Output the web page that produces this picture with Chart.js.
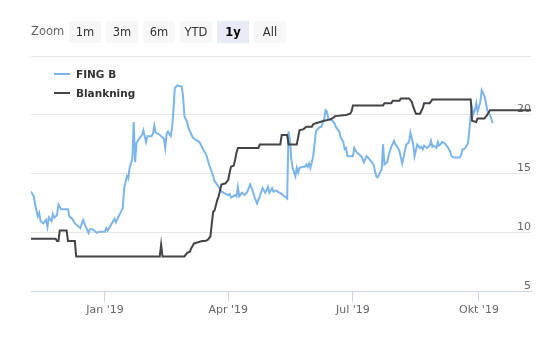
<!DOCTYPE html>
<html>
<head>
<meta charset="utf-8">
<script src="https://cdn.jsdelivr.net/npm/chart.js@4.4.1/dist/chart.umd.min.js"></script>
<style>
    body { margin: 0; background: #fff; }
    #wrap { position: relative; width: 559px; height: 341px; font-family: "DejaVu Sans", sans-serif; }
    #chart { position: absolute; left: 0; top: 0; }
    .zoom-label { position: absolute; left: 31px; top: 24px; font-size: 11.5px; color: #666; }
    .range-btn { position: absolute; top: 21px; width: 32px; height: 22px; line-height: 22px; text-align: center;
                 background: #f7f7f7; color: #333; font-size: 11.5px; }
    .range-btn.active { background: #e6ebf5; color: #000; font-weight: bold; }
    .legend { position: absolute; left: 54px; top: 66px; font-size: 10.5px; font-weight: bold; color: #333; }
    .legend div { height: 19px; line-height: 16px; position: relative; padding-left: 22px; }
    .legend span { position: absolute; left: 0; top: 7px; width: 16px; height: 2px; }
</style>
</head>
<body>
<div id="wrap">
    <canvas id="chart" width="559" height="341"></canvas>
    <div class="zoom-label">Zoom</div>
    <div id="buttons"></div>
    <div class="legend" id="legend"></div>
</div>
<script>
// Data
const fingDates = [
    '2018-11-08', '2018-11-10', '2018-11-11', '2018-11-13', '2018-11-14', '2018-11-15', '2018-11-17',
    '2018-11-19', '2018-11-20', '2018-11-21', '2018-11-23', '2018-11-24', '2018-11-25', '2018-11-27',
    '2018-11-28', '2018-11-30', '2018-12-02', '2018-12-05', '2018-12-06', '2018-12-08', '2018-12-10',
    '2018-12-12', '2018-12-14', '2018-12-16', '2018-12-18', '2018-12-20', '2018-12-21', '2018-12-23',
    '2018-12-26', '2018-12-28', '2019-01-01', '2019-01-02', '2019-01-03', '2019-01-06', '2019-01-08',
    '2019-01-09', '2019-01-11', '2019-01-14', '2019-01-15', '2019-01-17', '2019-01-18', '2019-01-19',
    '2019-01-21', '2019-01-22', '2019-01-23', '2019-01-24', '2019-01-26', '2019-01-28', '2019-01-29',
    '2019-01-31', '2019-02-01', '2019-02-04', '2019-02-05', '2019-02-06', '2019-02-07', '2019-02-09',
    '2019-02-11', '2019-02-13', '2019-02-14', '2019-02-15', '2019-02-16', '2019-02-18', '2019-02-19',
    '2019-02-20', '2019-02-21', '2019-02-23', '2019-02-26', '2019-02-27', '2019-02-28', '2019-03-02',
    '2019-03-03', '2019-03-06', '2019-03-08', '2019-03-11', '2019-03-14', '2019-03-16', '2019-03-18',
    '2019-03-21', '2019-03-22', '2019-03-25', '2019-03-27', '2019-03-30', '2019-04-01', '2019-04-02',
    '2019-04-03', '2019-04-06', '2019-04-07', '2019-04-08', '2019-04-09', '2019-04-11', '2019-04-13',
    '2019-04-15', '2019-04-17', '2019-04-19', '2019-04-20', '2019-04-22', '2019-04-24', '2019-04-26',
    '2019-04-28', '2019-04-29', '2019-04-30', '2019-05-01', '2019-05-03', '2019-05-04', '2019-05-06',
    '2019-05-07', '2019-05-10', '2019-05-12', '2019-05-14', '2019-05-15', '2019-05-16', '2019-05-17',
    '2019-05-18', '2019-05-20', '2019-05-21', '2019-05-22', '2019-05-23', '2019-05-25', '2019-05-27',
    '2019-05-28', '2019-05-29', '2019-05-30', '2019-05-31', '2019-06-02', '2019-06-03', '2019-06-04',
    '2019-06-06', '2019-06-08', '2019-06-09', '2019-06-10', '2019-06-11', '2019-06-12', '2019-06-13',
    '2019-06-15', '2019-06-17', '2019-06-19', '2019-06-21', '2019-06-22', '2019-06-24', '2019-06-25',
    '2019-06-26', '2019-06-27', '2019-06-29', '2019-07-01', '2019-07-02', '2019-07-04', '2019-07-05',
    '2019-07-07', '2019-07-08', '2019-07-09', '2019-07-11', '2019-07-12', '2019-07-14', '2019-07-16',
    '2019-07-17', '2019-07-18', '2019-07-19', '2019-07-20', '2019-07-22', '2019-07-23', '2019-07-24',
    '2019-07-26', '2019-07-27', '2019-07-29', '2019-07-31', '2019-08-01', '2019-08-03', '2019-08-04',
    '2019-08-06', '2019-08-08', '2019-08-09', '2019-08-11', '2019-08-12', '2019-08-14', '2019-08-15',
    '2019-08-16', '2019-08-17', '2019-08-19', '2019-08-20', '2019-08-21', '2019-08-22', '2019-08-24',
    '2019-08-26', '2019-08-27', '2019-08-28', '2019-08-29', '2019-08-31', '2019-09-01', '2019-09-02',
    '2019-09-03', '2019-09-04', '2019-09-06', '2019-09-08', '2019-09-10', '2019-09-11', '2019-09-13',
    '2019-09-17', '2019-09-18', '2019-09-19', '2019-09-20', '2019-09-21', '2019-09-23', '2019-09-24',
    '2019-09-25', '2019-09-26', '2019-09-27', '2019-09-28', '2019-09-29', '2019-09-30', '2019-10-02',
    '2019-10-03', '2019-10-05', '2019-10-06', '2019-10-07', '2019-10-09', '2019-10-10', '2019-10-11'
];
const fingValues = [
    13.5, 13.1, 12.4, 11.4, 11.7, 11.0, 10.8,
    11.1, 10.5, 11.3, 11.0, 11.6, 11.3, 11.5,
    12.4, 12.0, 12.0, 12.0, 11.4, 11.2, 10.8,
    10.6, 10.4, 11.1, 10.5, 10.0, 10.3, 10.3,
    10.0, 10.1, 10.1, 10.4, 10.2, 10.8, 11.2,
    10.9, 11.4, 12.1, 13.8, 14.8, 14.6, 15.5,
    16.3, 19.4, 16.0, 17.6, 18.0, 18.3, 18.7,
    17.7, 18.2, 18.2, 18.4, 19.1, 18.5, 18.4,
    18.2, 18.0, 17.2, 18.4, 18.6, 18.2, 18.9,
    20.4, 22.3, 22.5, 22.4, 21.6, 19.9, 19.4,
    18.9, 18.1, 17.9, 17.7, 17.0, 16.6, 15.8,
    14.8, 14.4, 13.9, 13.5, 13.3, 13.2, 13.3,
    13.0, 13.2, 13.1, 13.9, 13.1, 13.4, 13.2,
    13.5, 14.1, 13.5, 13.1, 12.5, 13.1, 13.8,
    13.4, 13.6, 13.9, 13.4, 13.8, 13.5, 13.6,
    13.5, 13.3, 13.1, 12.9, 18.6, 17.9, 16.3,
    15.5, 14.8, 15.5, 15.1, 15.5, 15.6, 15.6,
    15.8, 15.6, 15.9, 15.5, 16.5, 17.5, 18.6,
    18.9, 19.0, 19.4, 19.6, 20.4, 20.3, 19.7,
    19.6, 19.4, 18.9, 18.6, 18.1, 17.7, 17.1,
    17.2, 16.5, 16.5, 16.5, 17.2, 16.8, 16.7,
    16.5, 16.3, 16.0, 16.5, 16.4, 16.1, 15.8,
    15.3, 14.8, 14.7, 14.9, 15.4, 17.5, 15.8,
    16.0, 16.5, 17.3, 17.8, 17.5, 17.2, 16.9,
    15.9, 17.0, 17.5, 17.7, 18.5, 17.5, 16.5,
    17.0, 17.5, 17.2, 17.3, 17.1, 17.4, 17.2,
    17.4, 17.8, 17.3, 17.4, 17.2, 17.7, 17.4,
    17.5, 17.7, 17.6, 17.3, 16.9, 16.5, 16.4,
    16.4, 16.6, 17.1, 17.1, 17.2, 17.6, 18.7,
    20.0, 20.6, 20.1, 20.4, 21.0, 20.3, 21.1,
    22.1, 21.6, 21.1, 20.4, 20.0, 19.7, 19.3
];

const blankDates = [
    '2018-11-08', '2018-11-26', '2018-11-27', '2018-11-28', '2018-11-29', '2018-12-04', '2018-12-05',
    '2018-12-10', '2018-12-11', '2019-02-10', '2019-02-11', '2019-02-12', '2019-02-28', '2019-03-02',
    '2019-03-04', '2019-03-05', '2019-03-07', '2019-03-10', '2019-03-13', '2019-03-15', '2019-03-17',
    '2019-03-19', '2019-03-20', '2019-03-21', '2019-03-22', '2019-03-24', '2019-03-25', '2019-03-26',
    '2019-03-27', '2019-03-30', '2019-04-01', '2019-04-02', '2019-04-03', '2019-04-05', '2019-04-06',
    '2019-04-07', '2019-04-08', '2019-04-23', '2019-04-24', '2019-05-09', '2019-05-10', '2019-05-14',
    '2019-05-15', '2019-05-21', '2019-05-23', '2019-05-26', '2019-05-28', '2019-06-01', '2019-06-02',
    '2019-06-04', '2019-06-07', '2019-06-10', '2019-06-14', '2019-06-16', '2019-06-18', '2019-06-26',
    '2019-06-29', '2019-06-30', '2019-07-01', '2019-07-23', '2019-07-24', '2019-07-29', '2019-07-30',
    '2019-08-04', '2019-08-05', '2019-08-11', '2019-08-13', '2019-08-14', '2019-08-16', '2019-08-19',
    '2019-08-21', '2019-08-22', '2019-08-26', '2019-08-28', '2019-09-25', '2019-09-26', '2019-09-29',
    '2019-09-30', '2019-10-05', '2019-10-07', '2019-10-09', '2019-11-08'
];
const blankValues = [
    9.5, 9.5, 9.3, 9.3, 10.2, 10.2, 9.3,
    9.3, 8.0, 8.0, 9.0, 8.0, 8.0, 8.3,
    8.4, 8.7, 9.1, 9.2, 9.3, 9.3, 9.4,
    9.7, 10.8, 11.8, 11.9, 12.8, 13.1, 13.6,
    14.1, 14.2, 14.5, 15.1, 15.6, 15.7, 16.2,
    16.8, 17.2, 17.2, 17.5, 17.5, 18.3, 18.3,
    17.5, 17.5, 18.7, 18.8, 19.0, 19.0, 19.2,
    19.3, 19.4, 19.5, 19.6, 19.7, 19.9, 20.0,
    20.1, 20.3, 20.8, 20.8, 21.0, 21.0, 21.2,
    21.2, 21.4, 21.4, 21.1, 20.7, 20.1, 20.1,
    20.6, 21.0, 21.0, 21.3, 21.3, 19.5, 19.4,
    19.7, 19.7, 20.0, 20.4, 20.4
];

const tickDates = ['2019-01-01', '2019-04-01', '2019-07-01', '2019-10-01'];
const tickLabels = ["Jan '19", "Apr '19", "Jul '19", "Okt '19"];
const rangeStart = '2018-11-08';
const rangeEnd = '2019-11-08';
const rangeButtons = ['1m', '3m', '6m', 'YTD', '1y', 'All'];
const activeRange = '1y';

const DAY = 86400000;
const toDay = d => Date.parse(d) / DAY;

// Range selector buttons
const btnBox = document.getElementById('buttons');
rangeButtons.forEach((label, i) => {
    const b = document.createElement('div');
    b.className = 'range-btn' + (label === activeRange ? ' active' : '');
    b.style.left = (69 + i * 37) + 'px';
    b.textContent = label;
    btnBox.appendChild(b);
});

// Series
const series = [
    { name: 'FING B', dates: fingDates, values: fingValues, color: '#7cb5ec', order: 1 },
    { name: 'Blankning', dates: blankDates, values: blankValues, color: '#434348', order: 0 }
];

// Legend
const legendBox = document.getElementById('legend');
series.forEach(s => {
    const row = document.createElement('div');
    row.innerHTML = `<span style="background:${s.color}"></span>${s.name}`;
    legendBox.appendChild(row);
});

const labelFont = { family: '"DejaVu Sans", sans-serif', size: 11 };

new Chart(document.getElementById('chart'), {
    type: 'line',
    data: {
        datasets: series.map(s => ({
            label: s.name,
            data: s.dates.map((d, i) => ({ x: toDay(d), y: s.values[i] })),
            borderColor: s.color,
            borderWidth: 2,
            pointRadius: 0,
            tension: 0,
            fill: false,
            order: s.order
        }))
    },
    options: {
        responsive: false,
        animation: false,
        devicePixelRatio: 1,
        layout: { padding: { left: 31, right: 28, top: 56, bottom: 22 } },
        plugins: {
            legend: { display: false },
            tooltip: { enabled: false }
        },
        scales: {
            x: {
                type: 'linear',
                min: toDay(rangeStart),
                max: toDay(rangeEnd),
                afterBuildTicks: axis => {
                    axis.ticks = tickDates.map(d => ({ value: toDay(d) }));
                },
                ticks: {
                    callback: (value, index) => tickLabels[index],
                    color: '#666',
                    font: labelFont,
                    padding: 2,
                    maxRotation: 0,
                    autoSkip: false
                },
                grid: {
                    drawOnChartArea: false,
                    tickLength: 10,
                    color: '#ccd6eb'
                },
                border: { color: '#ccd6eb', width: 1 }
            },
            y: {
                position: 'right',
                min: 5,
                max: 25,
                ticks: {
                    stepSize: 5,
                    mirror: true,
                    padding: 0,
                    labelOffset: -6,
                    color: '#666',
                    font: labelFont,
                    callback: value => (value === 25 ? '' : value)
                },
                grid: {
                    color: '#e6e6e6',
                    drawTicks: false
                },
                border: { display: false }
            }
        }
    }
});
</script>
</body>
</html>
